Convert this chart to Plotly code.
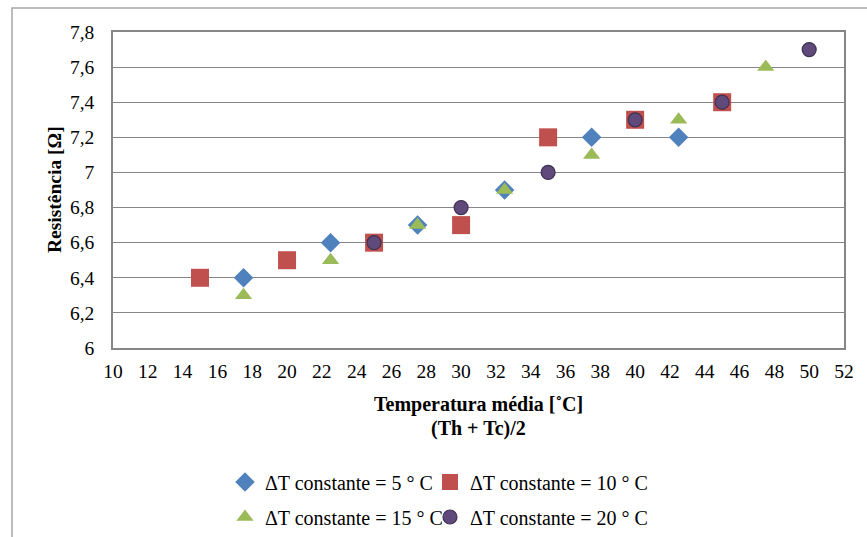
import plotly.graph_objects as go

# Data
x_dt5 = [17.5, 22.5, 27.5, 32.5, 37.5, 42.5]
y_dt5 = [6.4, 6.6, 6.7, 6.9, 7.2, 7.2]
x_dt10 = [15, 20, 25, 30, 35, 40, 45]
y_dt10 = [6.4, 6.5, 6.6, 6.7, 7.2, 7.3, 7.4]
x_dt15 = [17.5, 22.5, 27.5, 32.5, 37.5, 42.5, 47.5]
y_dt15 = [6.3, 6.5, 6.7, 6.9, 7.1, 7.3, 7.6]
x_dt20 = [25, 30, 35, 40, 45, 50]
y_dt20 = [6.6, 6.8, 7.0, 7.3, 7.4, 7.7]
names = ["ΔT constante = 5 ° C", "ΔT constante = 10 ° C",
         "ΔT constante = 15 ° C", "ΔT constante = 20 ° C"]
x_title_lines = ["Temperatura média [˚C]", "(Th + Tc)/2"]
y_title = "Resistência [Ω]"

FONT = "'Liberation Serif', 'Times New Roman', serif"
fig = go.Figure()
fig.add_trace(go.Scatter(x=x_dt5, y=y_dt5, mode="markers", name=names[0],
                         marker=dict(symbol="diamond", size=15, color="#4F81BD"),
                         legend="legend", legendgroup="g1"))
fig.add_trace(go.Scatter(x=x_dt10, y=y_dt10, mode="markers", name=names[1],
                         marker=dict(symbol="square", size=18, color="#C0504D"),
                         legend="legend2", legendgroup="g2"))
fig.add_trace(go.Scatter(x=x_dt15, y=y_dt15, mode="markers", name=names[2],
                         marker=dict(symbol="triangle-up", size=15, color="#9BBB59"),
                         legend="legend", legendgroup="g3"))
fig.add_trace(go.Scatter(x=x_dt20, y=y_dt20, mode="markers", name=names[3],
                         marker=dict(symbol="circle", size=14, color="#604A7B",
                                     line=dict(color="#3F3151", width=1.2)),
                         legend="legend2", legendgroup="g4"))

legend_common = dict(orientation="v", xanchor="left", yanchor="middle",
                     font=dict(family=FONT, size=20, color="#000000"),
                     bgcolor="rgba(0,0,0,0)", itemwidth=30, tracegroupgap=6,
                     traceorder="grouped")

PW, PH, L, T = 731, 316, 113, 32
def px_x(p):
    return (p - L) / PW
def px_y(p):
    return 1 - (p - T) / PH

fig.update_layout(
    width=867, height=537,
    margin=dict(l=113, r=23, t=32, b=189, autoexpand=False),
    paper_bgcolor="white", plot_bgcolor="white",
    separators=", ",
    font=dict(family=FONT, size=19, color="#000000"),
    legend=dict(x=px_x(225), y=px_y(499.5), **legend_common),
    legend2=dict(x=px_x(430), y=px_y(499.5), **legend_common),
    shapes=[dict(type="rect", xref="paper", yref="paper",
                 x0=px_x(12), x1=1.2, y0=-0.8, y1=px_y(8),
                 line=dict(color="#A6A6A6", width=1.5), layer="below")],
    annotations=[
        dict(text="<b>" + x_title_lines[0] + "</b>", xref="paper", yref="paper",
             x=0.5, y=px_y(404), xanchor="center", yanchor="middle",
             showarrow=False, font=dict(family=FONT, size=20)),
        dict(text="<b>" + x_title_lines[1] + "</b>", xref="paper", yref="paper",
             x=0.5, y=px_y(428), xanchor="center", yanchor="middle",
             showarrow=False, font=dict(family=FONT, size=20)),
        dict(text="<b>" + y_title + "</b>", xref="paper", yref="paper",
             x=px_x(54), y=px_y(190), xanchor="center", yanchor="middle",
             textangle=-90, showarrow=False, font=dict(family=FONT, size=19.5)),
    ],
)
fig.update_xaxes(range=[10, 52], dtick=2, tick0=10, showgrid=False,
                 showline=True, mirror=True, linecolor="#868686", linewidth=1.5,
                 ticks="", zeroline=False, ticklabelstandoff=5,
                 tickfont=dict(family=FONT, size=19.5))
fig.update_yaxes(range=[6, 7.8], dtick=0.2, tick0=6, showgrid=True,
                 gridcolor="#868686", gridwidth=1,
                 showline=True, mirror=True, linecolor="#868686", linewidth=1.5,
                 ticks="", zeroline=False, ticklabelstandoff=13,
                 tickfont=dict(family=FONT, size=19.5))

fig.write_html("out.html")
